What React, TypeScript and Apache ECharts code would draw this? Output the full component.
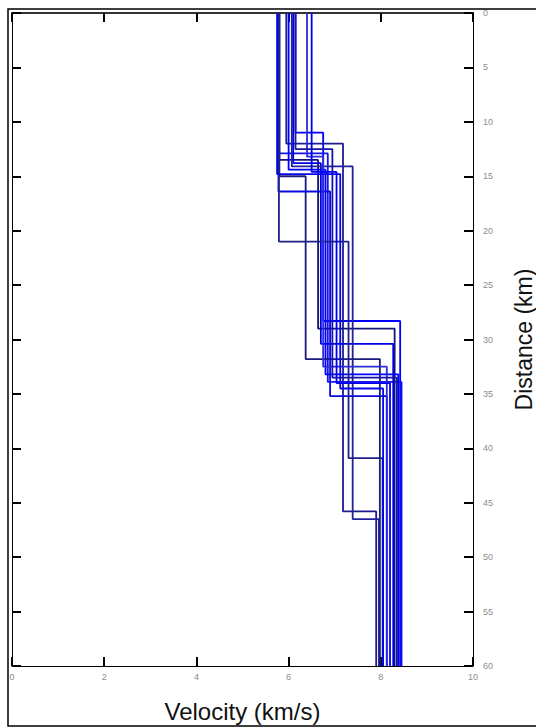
import React, { useEffect, useRef } from "react";
import * as echarts from "echarts";

// Velocity models: layer velocities (km/s) and layer bottom depths (km)
const modelVelocities: number[][] = [
  [6.15, 6.75, 8.42],
  [5.95, 7.18, 7.9],
  [5.77, 6.85, 8.45],
  [5.8, 6.64, 8.3],
  [6.1, 6.7, 8.27],
  [6.07, 7.39, 7.96],
  [6.0, 6.8, 8.38],
  [5.8, 6.37, 7.98],
  [5.78, 6.9, 8.13],
  [5.79, 7.3, 8.04],
  [6.4, 6.75, 8.13],
  [6.5, 7.04, 8.2],
  [6.15, 6.95, 8.35],
  [5.75, 7.12, 8.05],
];
const modelBottoms: number[][] = [
  [11.0, 28.3, 60],
  [12.0, 45.8, 60],
  [12.9, 33.9, 60],
  [13.5, 29.0, 60],
  [13.8, 30.4, 60],
  [14.1, 46.5, 60],
  [14.4, 33.2, 60],
  [15.0, 31.8, 60],
  [16.4, 35.2, 60],
  [21.0, 40.9, 60],
  [13.2, 32.5, 60],
  [14.6, 34.0, 60],
  [12.5, 33.5, 60],
  [14.8, 34.5, 60],
];
const modelColors = [
  "#0000ff", "#1c1c8c", "#1414f0", "#141478", "#0000e6", "#22229c", "#0000ff",
  "#1a1a80", "#0a0ae0", "#20208a", "#2c2cd8", "#0000f0", "#1515a8", "#0606ea",
];

const velocityTicks = [0, 2, 4, 6, 8, 10];
const depthTicks = [0, 5, 10, 15, 20, 25, 30, 35, 40, 45, 50, 55, 60];

const FONT = "'Liberation Sans', Arial, Helvetica, sans-serif";

function buildPoints(vels: number[], bottoms: number[]): number[][] {
  const pts: number[][] = [];
  let top = 0;
  for (let i = 0; i < vels.length; i++) {
    pts.push([vels[i], top]);
    pts.push([vels[i], bottoms[i]]);
    top = bottoms[i];
  }
  return pts;
}

export default function App() {
  const ref = useRef<HTMLDivElement>(null);
  useEffect(() => {
    if (!ref.current) return;
    const chart = echarts.init(ref.current, undefined, { renderer: "svg" });
    const vMin = velocityTicks[0];
    const vMax = velocityTicks[velocityTicks.length - 1];
    const dMin = depthTicks[0];
    const dMax = depthTicks[depthTicks.length - 1];
    const axisLine = { show: true, onZero: false, lineStyle: { color: "#000", width: 1 } };
    const axisTick = { show: true, inside: true, length: 9, lineStyle: { color: "#000", width: 2 } };
    const series = modelVelocities.map((v, i) => ({
      type: "line",
      showSymbol: false,
      symbol: "none",
      xAxisIndex: 0,
      yAxisIndex: 0,
      data: buildPoints(v, modelBottoms[i]),
      lineStyle: { color: modelColors[i % modelColors.length], width: 1.8 },
      silent: true,
    }));
    chart.setOption({
      animation: false,
      backgroundColor: "#fff",
      grid: {
        left: 12,
        right: 63,
        top: 13,
        bottom: 61,
        show: false,
        containLabel: false,
        outerBoundsMode: "none",
      },
      xAxis: [
        {
          type: "value",
          position: "bottom",
          min: vMin,
          max: vMax,
          interval: 2,
          axisLine,
          axisTick,
          splitLine: { show: false },
          axisLabel: { color: "#8c8c8c", fontSize: 9, margin: 6, fontFamily: FONT },
          name: "Velocity (km/s)",
          nameLocation: "middle",
          nameGap: 33,
          nameTextStyle: { fontSize: 24, color: "#111", fontFamily: FONT },
        },
        {
          type: "value",
          position: "top",
          min: vMin,
          max: vMax,
          interval: 2,
          axisLine: { show: true, onZero: false, lineStyle: { color: "#333", width: 2 } },
          axisTick,
          splitLine: { show: false },
          axisLabel: { show: false },
        },
      ],
      yAxis: [
        {
          type: "value",
          position: "right",
          inverse: true,
          min: dMin,
          max: dMax,
          interval: 5,
          axisLine,
          axisTick,
          splitLine: { show: false },
          axisLabel: { color: "#8c8c8c", fontSize: 9, margin: 10, fontFamily: FONT },
          name: "Distance (km)",
          nameLocation: "middle",
          nameGap: 39,
          nameRotate: 90,
          nameTextStyle: { fontSize: 23, color: "#111", fontFamily: FONT },
        },
        {
          type: "value",
          position: "left",
          inverse: true,
          min: dMin,
          max: dMax,
          interval: 5,
          axisLine,
          axisTick,
          splitLine: { show: false },
          axisLabel: { show: false },
        },
      ],
      graphic: [
        {
          type: "rect",
          shape: { x: 8, y: 9, width: 540, height: 717 },
          style: { fill: "none", stroke: "#000", lineWidth: 1.5 },
          silent: true,
        },
      ],
      series,
    });
    return () => chart.dispose();
  }, []);
  return (
    <div
      ref={ref}
      style={{ position: "absolute", left: 0, top: 0, width: 536, height: 727 }}
    />
  );
}
